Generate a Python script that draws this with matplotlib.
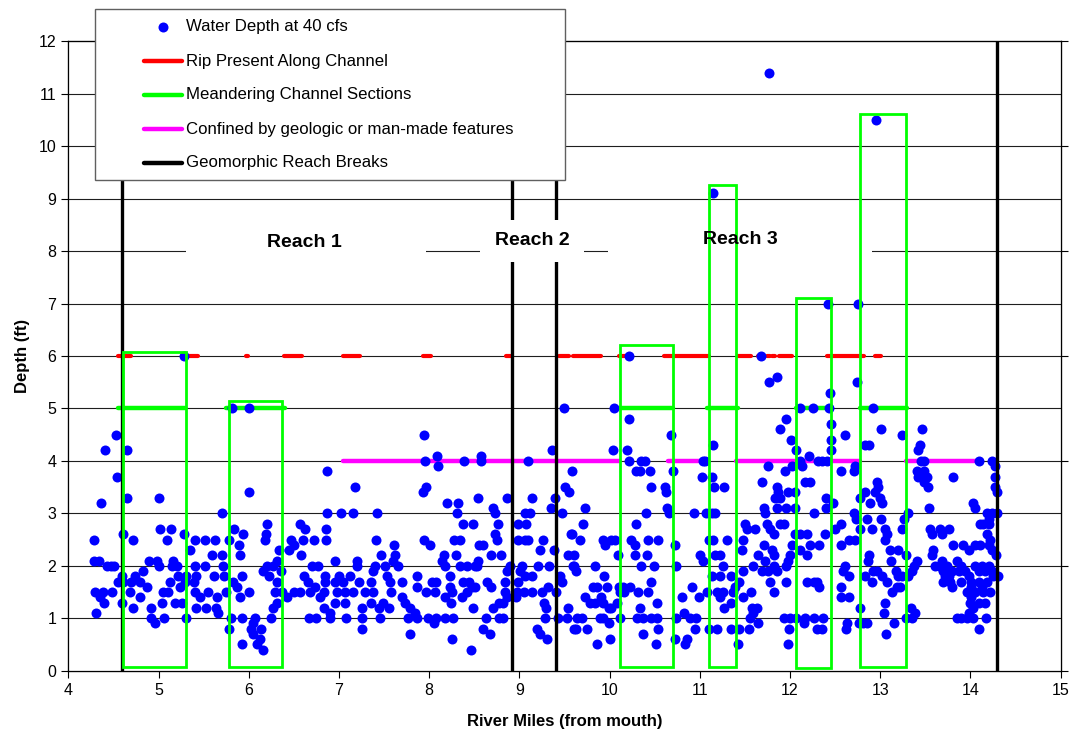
import matplotlib
matplotlib.use('Agg')
import matplotlib.pyplot as plt
from matplotlib.patches import Rectangle
from matplotlib.lines import Line2D

plt.rcParams['font.family'] = ['Liberation Sans', 'DejaVu Sans']

# ---------------- data (river mile, depth ft) ----------------
pts_mile_4_to_7 = [
    (4.53,4.5),(4.41,4.2),(4.65,4.2),(4.54,3.7),(4.36,3.2),(4.65,3.3),(5.01,3.3),(6.0,3.4),(5.70,3.0),
    (4.29,2.5),(4.61,2.6),(4.72,2.5),(5.02,2.7),(5.14,2.7),(5.09,2.5),(5.28,2.6),(5.40,2.5),(5.52,2.5),
    (5.63,2.5),(5.78,2.5),(5.84,2.7),(5.94,2.6),(5.89,2.4),(5.90,2.2),(6.20,2.8),(6.19,2.6),(6.18,2.5),
    (6.34,2.3),(6.47,2.5),(6.50,2.4),(6.45,2.3),(6.58,2.2),(6.57,2.8),(6.62,2.7),(6.60,2.5),(6.72,2.5),
    (6.87,3.8),(6.87,3.0),(6.86,2.7),(6.86,2.5),
    (4.29,2.1),(4.34,2.1),(4.43,2.0),(4.51,2.0),(4.55,1.7),(4.59,1.8),(4.61,1.7),(4.30,1.5),(4.35,1.4),
    (4.40,1.3),(4.48,1.5),(4.31,1.1),(4.59,1.3),(4.68,1.5),(4.70,1.7),(4.74,1.8),(4.80,1.7),(4.83,1.9),
    (4.89,2.1),(4.98,2.1),(5.00,2.0),(4.72,1.2),(4.80,1.4),(4.87,1.6),(4.92,1.2),(4.92,1.0),(4.96,0.9),
    (5.06,1.0),(5.04,1.3),(5.05,1.5),(5.13,1.7),(5.11,1.5),(5.15,2.0),(5.16,2.1),(5.20,2.0),(5.22,1.8),
    (5.24,1.6),(5.18,1.3),(5.26,1.3),(5.31,1.0),(5.29,1.7),(5.31,1.8),(5.35,2.3),(5.40,2.0),(5.39,1.7),
    (5.42,1.8),(5.40,1.5),(5.42,1.2),(5.46,1.4),(5.52,2.0),(5.55,1.5),(5.53,1.2),(5.59,2.2),(5.61,1.8),
    (5.64,1.2),(5.65,1.4),(5.66,1.1),(5.70,2.2),(5.72,2.0),(5.73,1.8),(5.75,1.5),(5.80,1.0),(5.78,0.8),
    (5.83,1.7),(5.87,1.6),(5.90,1.4),(5.93,1.0),(5.92,1.8),(6.00,1.5),(6.07,1.0),(6.05,0.9),(6.02,0.8),
    (6.14,0.8),(6.05,0.7),(6.13,0.6),(5.93,0.5),(6.16,0.4),(6.09,0.5),(6.16,1.9),(6.20,2.0),(6.23,1.8),
    (6.27,2.0),(6.31,2.1),(6.36,1.9),(6.31,1.7),(6.29,1.5),(6.31,1.3),(6.27,1.2),(6.25,1.0),(6.37,1.5),
    (6.42,1.4),(6.50,1.5),(6.57,1.5),(6.61,1.8),(6.66,1.7),(6.68,1.5),(6.70,2.0),(6.77,2.0),(6.74,1.6),
    (6.79,1.4),(6.83,1.5),(6.85,1.7),(6.83,1.2),(6.67,1.0),(6.75,1.0),(6.90,1.0),(5.82,5.0),(6.00,5.0),
    (5.28,6.0),(4.39,1.5),(4.47,2.0),
]

pts_mile_7_to_9_6 = [
    (7.18,3.5),(7.02,3.0),(7.16,3.0),(7.42,3.0),(7.41,2.5),(7.61,2.4),(6.96,2.1),(7.20,2.1),(7.20,2.0),
    (7.47,2.2),(7.62,2.2),(7.40,2.0),(7.51,2.0),(7.60,2.1),(7.66,2.0),(7.38,1.9),(6.85,1.8),(7.00,1.8),
    (7.12,1.8),(6.96,1.7),(7.05,1.7),(7.22,1.7),(7.36,1.7),(7.53,1.8),(7.57,1.7),(7.70,1.7),(6.98,1.5),
    (7.07,1.5),(7.16,1.5),(7.29,1.5),(7.38,1.5),(7.58,1.5),(6.96,1.3),(7.07,1.3),(7.35,1.3),(7.49,1.3),
    (7.25,1.2),(7.44,1.2),(7.55,1.2),(6.90,1.1),(7.08,1.0),(7.26,1.0),(7.46,1.0),(7.26,0.8),(7.70,1.4),
    (7.73,1.3),(7.79,1.2),(7.84,1.1),(7.77,1.0),(7.86,1.0),(7.79,0.7),(7.87,1.8),(7.86,1.6),(7.94,2.5),
    (8.01,2.4),(7.94,4.5),(7.95,4.0),(7.96,3.5),(7.93,3.4),(8.09,4.1),(8.10,3.9),(8.03,1.7),(8.08,1.7),
    (7.97,1.5),(8.07,1.5),(7.99,1.0),(8.08,1.0),(8.05,0.9),(8.16,2.2),(8.14,2.1),(8.17,2.0),(8.23,1.8),
    (8.23,1.6),(8.25,1.5),(8.18,1.4),(8.24,1.3),(8.17,1.0),(8.26,1.0),(8.25,0.6),(8.20,3.2),(8.32,3.2),
    (8.31,3.0),(8.37,2.8),(8.49,2.8),(8.28,2.5),(8.34,2.5),(8.30,2.2),(8.34,2.0),(8.42,2.0),(8.51,2.0),
    (8.38,1.7),(8.44,1.7),(8.47,1.6),(8.51,1.6),(8.36,1.4),(8.42,1.5),(8.49,1.2),(8.46,0.4),(8.39,4.0),
    (8.58,4.1),(8.58,4.0),(8.54,3.3),(8.55,2.4),(8.60,2.4),(8.54,2.1),(8.53,2.0),(8.64,1.7),(8.68,1.6),
    (8.71,1.2),(8.77,1.3),(8.82,1.3),(8.63,1.0),(8.77,1.0),(8.82,1.0),(8.60,0.8),(8.67,0.7),(8.71,3.1),
    (8.73,3.0),(8.76,2.8),(8.73,2.6),(8.75,2.5),(8.69,2.2),(8.80,2.2),(8.86,3.3),(8.86,1.9),(8.90,2.0),
    (8.84,1.7),(8.84,1.5),(8.86,1.4),(8.99,2.8),(9.07,2.8),(8.99,2.5),(9.06,2.5),(9.10,2.5),(9.06,3.0),
    (9.12,3.0),(9.03,2.0),(9.01,1.9),(9.06,1.8),(8.99,1.7),(9.14,1.8),(8.97,1.5),(9.05,1.5),(9.14,1.5),
    (8.96,1.4),(9.10,4.0),(9.14,3.3),(9.26,2.5),(9.23,2.3),(9.21,2.0),(9.33,2.0),(9.25,1.5),(9.27,1.3),
    (9.29,1.2),(9.28,1.0),(9.19,0.8),(9.23,0.7),(9.31,0.6),(9.36,4.2),(9.35,3.1),(9.40,3.3),(9.38,2.3),
    (9.32,1.6),(9.41,1.5),(9.43,1.0),(9.53,1.0),(9.45,1.8),(9.47,1.7),(9.47,3.0),(9.49,5.0),(9.58,3.8),
    (9.50,3.5),(9.55,3.4),(9.57,2.6),(9.54,2.2),(9.59,2.0),(9.54,1.2),(9.61,0.8),
]

pts_mile_9_6_to_12_3 = [
    (10.05,5.0),(10.21,4.8),(10.68,4.5),(10.04,4.2),(10.19,4.2),(10.22,4.0),(10.35,4.0),(10.39,4.0),
    (10.29,3.8),(10.34,3.8),(10.45,3.8),(10.70,3.8),(10.46,3.5),(10.61,3.5),(10.63,3.4),(10.64,3.1),
    (10.66,3.0),(10.40,3.0),(10.29,2.8),(10.24,2.5),(10.28,2.4),(10.43,2.5),(10.54,2.5),(10.28,2.2),
    (10.41,2.2),(10.35,2.0),(10.49,2.0),(10.72,2.4),(10.74,2.0),(10.46,1.7),(10.15,1.6),(10.23,1.6),
    (10.32,1.5),(10.42,1.5),(10.16,1.5),(10.34,1.2),(10.53,1.3),(10.12,1.0),(10.30,1.0),(10.37,1.0),
    (10.46,1.0),(10.52,1.0),(10.54,0.8),(10.37,0.7),(10.51,0.5),(10.72,0.6),(10.84,0.5),(10.86,0.6),
    (10.74,1.0),(10.82,1.1),(10.89,1.0),(10.96,1.0),(10.80,1.4),(10.91,1.6),(10.99,1.4),(10.95,0.8),
    (9.73,3.1),(9.71,2.8),(9.58,2.6),(9.67,2.5),(9.93,2.5),(9.95,2.4),(10.02,2.5),(10.06,2.5),(10.09,2.2),
    (9.60,2.2),(9.61,2.0),(9.63,1.9),(9.84,2.0),(9.94,1.8),(9.82,1.6),(9.86,1.6),(9.97,1.6),(9.73,1.4),
    (9.78,1.3),(9.84,1.3),(9.91,1.4),(9.93,1.3),(9.99,1.2),(10.02,1.2),(10.08,1.3),(10.11,1.5),(10.10,1.6),
    (9.64,1.0),(9.69,1.0),(9.89,1.0),(9.93,1.0),(9.99,0.9),(9.63,0.8),(9.75,0.8),(9.86,0.5),(10.00,0.6),
    (11.06,4.0),(11.03,4.0),(11.02,3.7),(11.15,4.3),(11.14,3.7),(11.16,3.5),(11.27,3.5),(10.93,3.0),
    (11.07,3.0),(11.13,3.0),(11.17,3.0),(11.10,2.5),(11.15,2.5),(11.30,2.5),(11.00,2.2),(11.04,2.1),
    (11.17,2.2),(11.22,2.2),(11.13,1.8),(11.26,2.0),(11.22,1.8),(11.35,1.8),(11.08,1.5),(11.19,1.5),
    (11.26,1.5),(11.22,1.4),(11.27,1.2),(11.34,1.3),(11.37,1.5),(11.39,1.6),(11.43,1.7),(11.10,0.8),
    (11.19,0.8),(11.35,0.8),(11.43,0.8),(11.42,0.5),(11.48,2.5),(11.50,2.8),(11.52,2.7),(11.47,2.3),
    (11.48,1.9),(11.48,1.4),(11.57,1.5),(11.59,2.0),(11.61,2.7),(11.69,3.6),(11.71,3.1),(11.72,3.0),
    (11.76,3.9),(11.85,3.5),(11.87,3.4),(11.83,3.3),(11.89,3.3),(11.85,3.1),(11.96,3.1),(11.98,3.4),
    (12.05,3.4),(12.06,3.1),(11.74,2.8),(11.78,2.7),(11.82,2.6),(11.89,2.8),(11.93,2.8),(11.71,2.4),
    (11.80,2.3),(11.82,2.2),(11.65,2.2),(11.72,2.1),(11.69,1.9),(11.76,1.9),(11.82,2.0),(11.85,1.9),
    (11.78,1.7),(11.82,1.5),(11.58,1.2),(11.63,1.2),(11.56,1.0),(11.59,1.1),(11.55,0.8),(11.64,0.9),
    (11.96,4.8),(11.89,4.6),(12.01,4.4),(12.07,4.2),(11.94,3.8),(12.02,3.9),(12.11,4.0),(12.13,3.9),
    (12.21,4.1),(12.22,3.6),(12.17,3.6),(12.31,4.0),(12.11,5.0),(12.25,5.0),(11.96,1.7),(11.95,2.0),
    (11.98,2.1),(12.00,2.2),(12.02,2.4),(12.05,2.6),(12.11,2.6),(12.19,2.6),(12.11,2.3),(12.19,2.2),
    (12.22,2.4),(12.26,3.0),(12.19,1.7),(12.26,1.7),(11.93,1.0),(12.00,1.0),(12.07,1.0),(12.17,1.0),
    (12.26,1.0),(12.15,0.9),(11.99,0.8),(11.98,0.5),(12.32,2.4),(12.30,0.8),
]

pts_mile_12_3_to_14_3 = [
    (12.44,5.3),(12.43,5.0),(12.92,5.0),(12.45,4.7),(12.45,4.4),(12.45,4.2),(12.61,4.5),(13.01,4.6),
    (13.24,4.5),(13.46,4.6),(12.83,4.3),(12.88,4.3),(13.44,4.3),(13.42,4.2),(13.45,4.0),(13.48,4.0),
    (12.35,4.0),(12.41,4.0),(12.57,3.8),(12.72,3.9),(12.71,3.8),(13.41,3.8),(13.42,3.7),(13.48,3.8),
    (13.52,3.7),(13.48,3.6),(13.53,3.5),(13.81,3.7),(14.09,4.0),(14.24,4.0),(14.27,3.9),(14.27,3.7),
    (14.27,3.5),(14.29,3.4),(12.96,3.6),(12.98,3.5),(12.94,3.4),(13.00,3.3),(13.02,3.2),(12.83,3.4),
    (12.78,3.3),(12.89,3.2),(12.40,3.3),(12.48,3.2),(12.40,3.1),(13.54,3.1),(14.03,3.2),(14.05,3.1),
    (14.18,3.0),(14.20,2.9),(14.24,3.0),(14.29,3.0),(14.20,2.8),(14.14,2.8),(14.11,2.8),(14.18,2.6),
    (14.22,2.5),(14.20,2.4),(14.24,2.3),(14.28,2.2),(12.71,3.0),(12.73,2.9),(12.85,2.9),(13.01,2.9),
    (13.26,2.9),(13.31,3.0),(13.24,2.7),(12.78,2.7),(12.91,2.7),(13.05,2.7),(13.07,2.6),(13.05,2.5),
    (12.57,2.8),(12.50,2.7),(12.39,2.6),(12.56,2.4),(12.65,2.5),(12.72,2.5),(13.55,2.7),
    (13.57,2.6),(13.66,2.7),(13.68,2.6),(13.76,2.7),(13.81,2.4),(13.92,2.4),(13.98,2.3),(14.05,2.4),
    (14.11,2.4),(13.59,2.3),(13.57,2.2),(13.11,2.3),(13.20,2.3),(13.28,2.2),(13.12,2.1),(12.87,2.2),
    (12.86,2.1),(13.41,2.1),(13.68,2.1),(13.65,2.0),(13.61,2.0),(13.70,1.9),(13.74,2.0),(13.79,1.9),
    (13.72,1.8),(13.76,1.8),(13.69,1.7),(13.77,1.7),(13.79,1.6),(13.85,2.1),(13.90,2.0),(13.94,1.9),
    (13.87,1.9),(13.89,1.7),(13.98,1.8),(14.01,1.7),(13.96,1.5),(14.01,1.6),(14.05,2.0),(14.09,1.9),
    (14.13,2.0),(14.16,1.9),(14.20,2.0),(14.24,1.9),(14.25,1.8),(14.18,1.7),(14.09,1.7),(14.13,1.6),
    (14.22,1.5),(14.14,1.5),(14.05,1.5),(14.01,1.4),(14.09,1.3),(14.03,1.2),(13.98,1.1),(14.00,1.3),
    (14.30,1.8),(14.16,1.3),(14.17,1.0),(14.09,0.8),(13.85,1.0),(13.90,1.0),(13.96,1.0),(14.03,1.0),
    (13.28,1.0),(13.35,1.0),(13.34,1.2),(13.39,1.1),(13.05,1.3),(13.04,1.1),(13.15,0.9),(13.06,0.7),
    (12.81,0.9),(12.85,0.9),(12.76,0.9),(12.78,1.2),(12.92,1.9),(12.96,1.9),(13.02,1.8),(13.07,1.7),
    (13.17,1.9),(13.20,1.8),(13.18,1.6),(13.13,1.5),(13.22,1.6),(13.24,1.8),(13.35,1.9),(13.37,2.0),
    (13.31,1.8),(12.83,1.8),(12.91,1.7),(12.61,2.0),(12.59,1.9),(12.65,1.8),(12.57,1.6),(12.56,1.4),
    (12.65,1.4),(12.30,1.7),(12.32,1.6),(12.37,1.0),(12.35,0.8),(12.63,0.9),(12.62,0.8),
]

pts_high = [
    (11.77,11.4),(12.95,10.5),(11.15,9.1),(12.42,7.0),(12.75,7.0),(10.22,6.0),(11.68,6.0),
    (11.77,5.5),(11.86,5.6),(12.74,5.5),
]

rip_segments = [(4.55,4.70),(5.34,5.44),(5.97,5.99),(6.39,6.59),(7.05,7.23),(7.93,8.02),(8.85,8.91),
                (9.44,9.55),(9.59,9.90),(10.10,10.22),(10.60,11.10),(11.42,11.57),(11.64,11.69),
                (11.74,11.78),(11.80,11.83),(11.88,12.02),(12.41,12.82),(12.94,13.01)]
meander_segments = [(4.55,5.29),(5.75,6.40),(10.12,10.70),(11.08,11.42),(12.07,12.44),(12.77,13.30)]
confined_segments = [(7.05,10.10),(10.65,11.08),(11.40,12.77),(13.29,14.08)]
meander_boxes = [(4.61,5.31,0.08,6.07),(5.78,6.37,0.08,5.15),(10.12,10.70,0.08,6.21),
                 (11.10,11.40,0.08,9.26),(12.07,12.45,0.05,7.10),(12.78,13.29,0.08,10.62)]
reach_breaks = [4.60, 8.92, 9.41, 14.29]
reach_names = ['Reach 1', 'Reach 2', 'Reach 3']
legend_labels = ['Water Depth at 40 cfs', 'Rip Present Along Channel', 'Meandering Channel Sections',
                 'Confined by geologic or man-made features', 'Geomorphic Reach Breaks']

RIP_Y, MEANDER_Y, CONFINED_Y = 6, 5, 4
BLUE, RED, GREEN, MAGENTA = '#0000ff', '#ff0000', '#00ff00', '#ff00ff'

# ---------------- figure ----------------
W, H = 1071, 736
fig = plt.figure(figsize=(W/100, H/100), dpi=100)
ax = fig.add_axes([68.3/W, 1-670.7/H, (1060.7-68.3)/W, (670.7-41.3)/H])
ax.set_xlim(4, 15)
ax.set_ylim(0, 12)
ax.set_xticks(range(4, 16))
ax.set_yticks(range(0, 13))
ax.tick_params(direction='out', length=5, width=0.8, labelsize=11.5, colors='black')
for s in ax.spines.values():
    s.set_color('black'); s.set_linewidth(0.9)
for y in range(1, 13):
    ax.axhline(y, color='#1e1e1e', lw=0.8, zorder=0.5)

ax2 = ax.twinx()
ax2.set_ylim(0, 12)
ax2.set_yticks(range(0, 13, 2))
ax2.set_yticklabels([])
ax2.tick_params(direction='out', length=5, width=0.8)
ax2.set_zorder(-1)

for a, b in rip_segments:
    ax.plot([a, b], [RIP_Y, RIP_Y], color=RED, lw=3, solid_capstyle='round', zorder=2)
for a, b in meander_segments:
    ax.plot([a, b], [MEANDER_Y, MEANDER_Y], color=GREEN, lw=3.2, solid_capstyle='round', zorder=2)
for a, b in confined_segments:
    ax.plot([a, b], [CONFINED_Y, CONFINED_Y], color=MAGENTA, lw=3.2, solid_capstyle='round', zorder=2)

all_pts = pts_mile_4_to_7 + pts_mile_7_to_9_6 + pts_mile_9_6_to_12_3 + pts_mile_12_3_to_14_3 + pts_high
xs = [p[0] for p in all_pts]
ys = [p[1] for p in all_pts]
ax.plot(xs, ys, 'o', color=BLUE, ms=7.2, mec='none', zorder=3, clip_on=False)

for x in reach_breaks:
    ax.plot([x, x], [0, 12], color='black', lw=2.4, zorder=4, solid_capstyle='butt')

# reach labels with white boxes
label_x = [6.62, 9.14, 11.45]
label_y = [8.17, 8.21, 8.22]
box_x = [(5.31, 7.97), (8.56, 9.72), (9.98, 12.91)]
for name, lx, ly, (bx0, bx1) in zip(reach_names, label_x, label_y, box_x):
    ax.add_patch(Rectangle((bx0, 7.79), bx1-bx0, 0.80, facecolor='white', edgecolor='none', zorder=5))
    ax.text(lx, ly, name, ha='center', va='center', fontsize=14, fontweight='bold', zorder=7)

for x0, x1, y0, y1 in meander_boxes:
    ax.add_patch(Rectangle((x0, y0), x1-x0, y1-y0, fill=False, edgecolor=GREEN, lw=2.0, zorder=6))

ax.set_xlabel('River Miles (from mouth)', fontsize=12, fontweight='bold', labelpad=12)
ax.set_ylabel('Depth (ft)', fontsize=12, fontweight='bold', labelpad=6)

# ---------------- legend drawn manually ----------------
def fx(px): return px / W
def fy(py): return 1 - py / H

fig.patches.append(Rectangle((fx(94.5), fy(179.5)), fx(564.5)-fx(94.5), fy(8.6)-fy(179.5),
                             transform=fig.transFigure, facecolor='white', edgecolor='#606060',
                             lw=1.0, zorder=10))
rows = [26.9, 61.3, 94.7, 129.1, 162.9]
handles = [None, RED, GREEN, MAGENTA, 'black']
for lab, ry, col in zip(legend_labels, rows, handles):
    if col is None:
        fig.add_artist(Line2D([fx(162.6)], [fy(ry)], marker='o', color=BLUE, ms=7.2, mec='none',
                              transform=fig.transFigure, zorder=11))
    else:
        fig.add_artist(Line2D([fx(143.7), fx(182.2)], [fy(ry), fy(ry)], color=col, lw=3.2,
                              solid_capstyle='round', transform=fig.transFigure, zorder=11))
    fig.text(fx(185.7), fy(ry), lab, ha='left', va='center', fontsize=12.1, zorder=12)

fig.savefig('out.png', dpi=100)
